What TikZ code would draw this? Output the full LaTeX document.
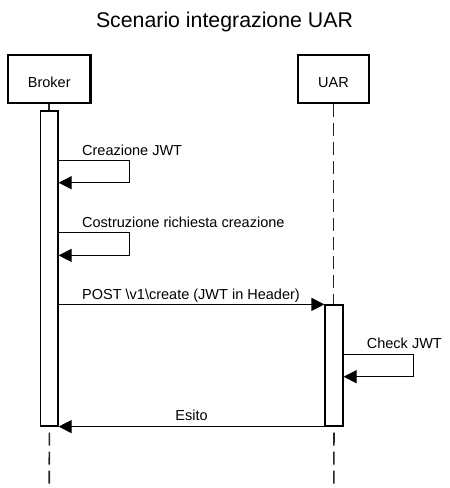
\documentclass[tikz,border=0pt]{standalone}
\usepackage{fontspec}
\setmainfont{Liberation Sans}
\usetikzlibrary{arrows.meta}
\begin{document}
\begin{tikzpicture}[x=1pt,y=-1pt,
  actorbox/.style={draw=black,line width=2.6pt,fill=white,inner sep=0pt,
    font=\fontsize{14.5}{17}\selectfont,text height=16.6pt,text depth=0pt},
  actbar/.style={draw=black,line width=1.2pt,fill=white,inner sep=0pt},
  lifeline/.style={draw=black!85,line width=1.6pt,dash pattern=on 13pt off 6pt},
  msg/.style={draw=black,line width=1.2pt,-{Triangle[length=13pt,width=13pt]}},
  msglabel/.style={font=\fontsize{14.5}{17}\selectfont,inner sep=0pt},
]
\useasboundingbox (0,0) rectangle (450,488);
\fill[white] (0,0) rectangle (450,488);

\node[anchor=base,inner sep=0pt,font=\fontsize{21.3}{25}\selectfont] (title) at (224.5,27.3) {Scenario integrazione UAR};

% actors
\node[actorbox,minimum width=82.5pt,minimum height=48pt] (broker) at (49.25,79) {Broker};
\node[actorbox,minimum width=71pt,minimum height=48pt] (uar) at (333.5,79) {UAR};

% lifelines (top)
\coordinate (bend) at (49.25,488);
\coordinate (uend) at (333.8,488);
\draw[lifeline] (broker.south) -- (broker.south |- 0,117);
\draw[lifeline] (uar.south) -- (uar.south |- 0,310);

% activation bars
\node[actbar,minimum width=17.3pt,minimum height=315pt] (bact) at (49.35,268.5) {};
\node[actbar,minimum width=18pt,minimum height=121pt] (uact) at (334,365.5) {};

% lifelines (bottom)
\draw[lifeline,dash phase=13pt] (bact.south) -- (bend);
\draw[lifeline,dash phase=13pt] (uact.south) -- (uend);

% self message 1
\draw[msg] ([yshift=-50pt]bact.north east) -- ++(71,0) -- ++(0,22.3) -- ([yshift=-72.3pt]bact.north east);
\node[msglabel,anchor=base west] (l1) at (82,155.7) {Creazione JWT};

% self message 2
\draw[msg] ([yshift=-122.3pt]bact.north east) -- ++(71,0) -- ++(0,22.7) -- ([yshift=-145pt]bact.north east);
\node[msglabel,anchor=base west] (l2) at (82,227.7) {Costruzione richiesta creazione};

% POST
\draw[msg] (bact.east |- uact.north west) -- (uact.north west);
\node[msglabel,anchor=base west] (l3) at (82,299.3) {POST \textbackslash v1\textbackslash create (JWT in Header)};

% Check JWT
\draw[msg] ([yshift=-49.7pt]uact.north east) -- ++(70,0) -- ++(0,22.6) -- ([yshift=-72.3pt]uact.north east);
\node[msglabel,anchor=base west] (l4) at (366.7,348.3) {Check JWT};

% Esito
\draw[msg] (uact.south west) -- (bact.south east);
\node[msglabel,anchor=base] (l5) at (191.5,420) {Esito};
\end{tikzpicture}
\end{document}
